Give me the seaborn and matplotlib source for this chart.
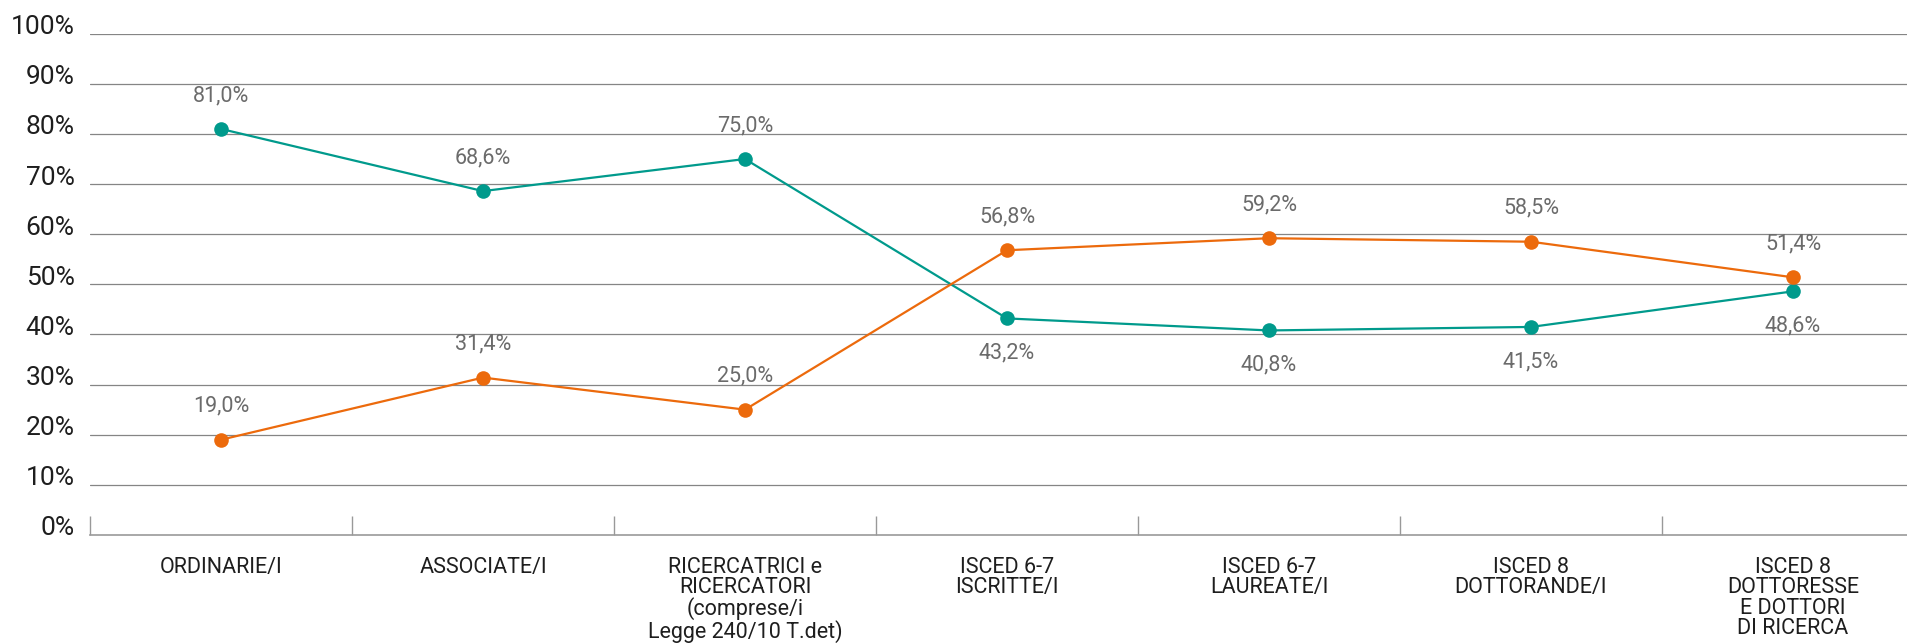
import matplotlib
matplotlib.use("Agg")
import matplotlib.pyplot as plt
import matplotlib.transforms as mtransforms
from matplotlib.ticker import FixedLocator
import numpy as np
import pandas as pd
import seaborn as sns

# Categories along the career path
categories = [
    "ORDINARIE/I",
    "ASSOCIATE/I",
    "RICERCATRICI e\nRICERCATORI\n(comprese/i\nLegge 240/10 T.det)",
    "ISCED 6-7\nISCRITTE/I",
    "ISCED 6-7\nLAUREATE/I",
    "ISCED 8\nDOTTORANDE/I",
    "ISCED 8\nDOTTORESSE\nE DOTTORI\nDI RICERCA",
]

# Percentage shares per group
uomini = [81.0, 68.6, 75.0, 43.2, 40.8, 41.5, 48.6]
donne = [19.0, 31.4, 25.0, 56.8, 59.2, 58.5, 51.4]

y_ticks = [0, 10, 20, 30, 40, 50, 60, 70, 80, 90, 100]
y_tick_labels = [f"{v}%" for v in y_ticks]

TEAL = "#009A8C"
ORANGE = "#EC6A0C"

sns.set_theme(style="white")
plt.rcParams["font.family"] = ["Roboto", "DejaVu Sans"]

df = pd.DataFrame({
    "pos": list(range(len(categories))) * 2,
    "valore": uomini + donne,
    "gruppo": ["Uomini"] * len(categories) + ["Donne"] * len(categories),
})

fig = plt.figure(figsize=(19.07, 6.43), dpi=100)
ax = fig.add_axes([0.0472, 0.168, 0.9617, 0.7796])

sns.lineplot(
    data=df, x="pos", y="valore", hue="gruppo",
    palette={"Uomini": TEAL, "Donne": ORANGE},
    marker="o", markersize=10.5, markeredgewidth=0,
    linewidth=1.6, legend=False, ax=ax, zorder=3,
)

ax.set_xlim(-0.5, len(categories) - 0.5)
ax.set_ylim(0, 100)
ax.set_xlabel("")
ax.set_ylabel("")

# Horizontal grid at every 10%
for v in y_ticks[1:]:
    ax.axhline(v, color="#858585", linewidth=0.9, zorder=1)

ax.set_yticks(y_ticks)
ax.set_yticklabels(y_tick_labels)
ax.tick_params(axis="y", length=0, pad=11, labelsize=19, labelcolor="#1e1e1e")
offset = mtransforms.ScaledTranslation(0, -0.005, fig.dpi_scale_trans)
for lbl in ax.get_yticklabels():
    lbl.set_verticalalignment("baseline")
    lbl.set_transform(lbl.get_transform() + offset)

ax.set_xticks(range(len(categories)))
ax.set_xticklabels(categories, linespacing=0.95)
ax.tick_params(axis="x", which="major", length=0, pad=16, labelsize=15.5,
               labelcolor="#1e1e1e")
ax.xaxis.set_minor_locator(FixedLocator(np.arange(-0.5, len(categories), 1.0)))
ax.tick_params(axis="x", which="minor", direction="in", length=14,
               width=1.0, color="#999999", bottom=True)

for side in ["top", "left", "right"]:
    ax.spines[side].set_visible(False)
ax.spines["bottom"].set_color("#9a9a9a")
ax.spines["bottom"].set_linewidth(1.2)

def fmt(v):
    return f"{v:.1f}%".replace(".", ",")

LABEL_STYLE = dict(textcoords="offset points", ha="center", va="center",
                   fontsize=15.5, color="#6b6b6b")

# Value labels: the higher series above its point, the lower one below
for i in range(len(categories)):
    u, d = uomini[i], donne[i]
    if u >= d:
        ax.annotate(fmt(u), (i, u), xytext=(0, 24), **LABEL_STYLE)
        ax.annotate(fmt(d), (i, d), xytext=(0, 24), **LABEL_STYLE)
    else:
        ax.annotate(fmt(d), (i, d), xytext=(0, 24), **LABEL_STYLE)
        ax.annotate(fmt(u), (i, u), xytext=(0, -25), **LABEL_STYLE)

fig.savefig("out.png", dpi=100)
